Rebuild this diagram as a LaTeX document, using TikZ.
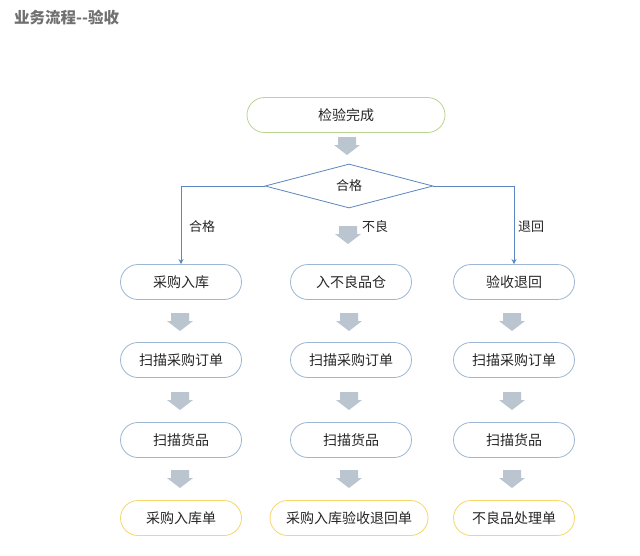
\documentclass[tikz,border=0pt]{standalone}
\usepackage{fontspec}
\setmainfont{Noto Sans CJK SC}
\usetikzlibrary{shapes.geometric,arrows.meta}
\definecolor{nodeblue}{HTML}{9DB6D3}
\definecolor{nodegreen}{HTML}{B9D58F}
\definecolor{nodeyellow}{HTML}{F7D66A}
\definecolor{linkblue}{HTML}{5B86C0}
\definecolor{agray}{HTML}{BAC5D0}
\definecolor{txt}{HTML}{262626}
\definecolor{titlegray}{HTML}{707070}
\begin{document}
\begin{tikzpicture}[x=1pt,y=-1pt,
  base/.style={rectangle, rounded corners=17.5pt, draw, line width=0.8pt, fill=white,
    minimum width=121pt, minimum height=35pt, inner sep=0pt, text=txt, font=\fontsize{14}{16}\selectfont},
  bnode/.style={base, draw=nodeblue},
  gnode/.style={base, draw=nodegreen},
  ynode/.style={base, draw=nodeyellow},
  dia/.style={diamond, aspect=3.82, draw=linkblue, line width=0.8pt, fill=white,
    minimum width=168pt, minimum height=44pt, inner sep=0pt, text=txt, font=\fontsize{13}{15}\selectfont},
  conn/.style={draw=linkblue, line width=0.8pt, -{Stealth[length=5pt,width=5pt]}},
  lbl/.style={text=txt, font=\fontsize{13}{15}\selectfont, inner sep=0pt},
  garrow/.pic={\fill[agray] (-9,0) -- (9,0) -- (9,8) -- (13,8) -- (0,18) -- (-13,8) -- (-9,8) -- cycle;}
]
\useasboundingbox (0,0) rectangle (640,555);
\fill[white] (0,0) rectangle (640,555);

\node[anchor=west, inner sep=0pt, text=titlegray, font=\bfseries\fontsize{15.5}{17}\selectfont] (title) at (14,18) {业务流程{-}{-}验收};

\node[gnode, minimum width=198pt, minimum height=35pt] (start) at (346,115) {检验完成};
\pic at (347,137) {garrow};
\node[dia] (check) at (349,186) {合格};

% row 1
\node[bnode] (a1) at (181,282) {采购入库};
\node[bnode] (b1) at (351,282) {入不良品仓};
\node[bnode] (c1) at (514,282) {验收退回};
% row 2
\node[bnode] (a2) at (181,360) {扫描采购订单};
\node[bnode] (b2) at (351,360) {扫描采购订单};
\node[bnode] (c2) at (514,360) {扫描采购订单};
% row 3
\node[bnode] (a3) at (181,440) {扫描货品};
\node[bnode] (b3) at (351,440) {扫描货品};
\node[bnode] (c3) at (514,440) {扫描货品};
% row 4
\node[ynode] (a4) at (181,518) {采购入库单};
\node[ynode, minimum width=158pt] (b4) at (349,518) {采购入库验收退回单};
\node[ynode] (c4) at (514,518) {不良品处理单};

\draw[conn] (check.west) -| (a1.north);
\draw[conn] (check.east) -| (c1.north);

\node[lbl] (lq) at (202,227) {合格};
\node[lbl] (lb) at (375,227) {不良};
\node[lbl] (lr) at (531,227) {退回};

\pic at (348,226) {garrow};
\foreach \x in {180,349,512} {
  \pic at (\x,313) {garrow};
  \pic at (\x,392) {garrow};
  \pic at (\x,470) {garrow};
}
\end{tikzpicture}
\end{document}
